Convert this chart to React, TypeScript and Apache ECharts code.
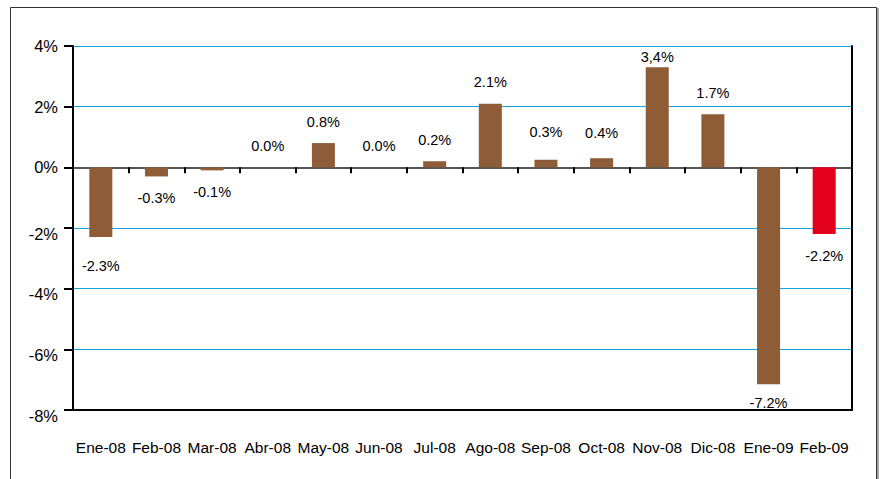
import * as echarts from 'echarts';
import { useEffect, useRef } from 'react';

const months = [
  'Ene-08', 'Feb-08', 'Mar-08', 'Abr-08', 'May-08', 'Jun-08', 'Jul-08',
  'Ago-08', 'Sep-08', 'Oct-08', 'Nov-08', 'Dic-08', 'Ene-09', 'Feb-09',
];
const values = [-2.3, -0.3, -0.1, 0, 0.8, 0, 0.2, 2.1, 0.25, 0.3, 3.3, 1.75, -7.15, -2.2];
const valueLabels = [
  '-2.3%', '-0.3%', '-0.1%', '0.0%', '0.8%', '0.0%', '0.2%',
  '2.1%', '0.3%', '0.4%', '3,4%', '1.7%', '-7.2%', '-2.2%',
];
const highlightMonth = 'Feb-09';

const FONT = '"Liberation Sans", Arial, sans-serif';
const BROWN = '#8E5C36';
const RED = '#E2001A';

// label gaps that differ from the default in the original
const labelGap: Record<string, number> = {
  'Ene-08': 21,
  'Sep-08': 20,
  'Oct-08': 18,
  'Nov-08': 3,
  'Ene-09': 11,
};

const App: React.FC = () => {
  const chartRef = useRef<HTMLDivElement>(null);

  useEffect(() => {
    if (!chartRef.current) return;
    const chart = echarts.init(chartRef.current, null, { renderer: 'svg' });

    const option: echarts.EChartsOption = {
      animation: false,
      backgroundColor: '#fff',
      textStyle: { fontFamily: FONT },
      grid: { left: 73, right: 31, top: 46, bottom: 69 },
      graphic: [
        {
          type: 'rect',
          shape: { x: 10.5, y: 7.5, width: 866, height: 520 },
          style: { fill: 'none', stroke: '#333', lineWidth: 1 },
          silent: true,
        },
        {
          type: 'line',
          shape: { x1: 878, y1: 8, x2: 878, y2: 520 },
          style: { stroke: '#888', lineWidth: 1.5 },
          silent: true,
        },
      ],
      xAxis: [
        {
          type: 'category',
          data: months,
          position: 'bottom',
          axisLine: { onZero: false, lineStyle: { color: '#000', width: 2 } },
          axisTick: { show: false },
          axisLabel: { interval: 0, margin: 29, fontSize: 15.5, color: '#000', fontFamily: FONT },
        },
        {
          type: 'category',
          data: months,
          position: 'top',
          axisLine: { onZero: true, lineStyle: { color: '#555', width: 2 } },
          axisTick: { show: true, inside: true, length: 6, lineStyle: { color: '#000', width: 2 } },
          axisLabel: { show: false },
        },
      ],
      yAxis: [
        {
          type: 'value',
          min: -8,
          max: 4,
          interval: 2,
          axisLine: { show: true, lineStyle: { color: '#000', width: 2 } },
          axisTick: { show: true, length: 9, lineStyle: { color: '#000', width: 2 } },
          axisLabel: {
            margin: 15,
            formatter: (v: number) => (v < 0 ? `{n|${v}%}` : `{p|${v}%}`),
            rich: {
              p: { fontSize: 16.5, color: '#000', fontFamily: FONT },
              n: { fontSize: 16.5, color: '#000', fontFamily: FONT, padding: [11, 0, 0, 0] },
            },
          },
          splitLine: { show: true, lineStyle: { color: '#1AA2DD', width: 1 } },
        },
        {
          type: 'value',
          position: 'right',
          min: -8,
          max: 4,
          interval: 2,
          axisLine: { show: true, lineStyle: { color: '#000', width: 2 } },
          axisTick: { show: false },
          axisLabel: { show: false },
          splitLine: { show: false },
        },
      ],
      series: [
        {
          type: 'bar',
          xAxisIndex: 0,
          yAxisIndex: 0,
          barWidth: 23,
          data: values.map((v, i) => ({
            value: v,
            itemStyle: { color: months[i] === highlightMonth ? RED : BROWN },
            label: {
              show: true,
              position: v < 0 ? 'bottom' : 'top',
              distance: labelGap[months[i]] ?? 14,
              formatter: () => valueLabels[i],
              fontSize: 14.5,
              color: '#000',
              fontFamily: FONT,
            },
          })),
        },
      ],
    };
    chart.setOption(option);

    return () => {
      if (!chart.isDisposed()) chart.dispose();
    };
  }, []);

  return (
    <div
      ref={chartRef}
      style={{ position: 'fixed', left: 0, top: 0, width: '883px', height: '479px' }}
    ></div>
  );
};

export default App;
